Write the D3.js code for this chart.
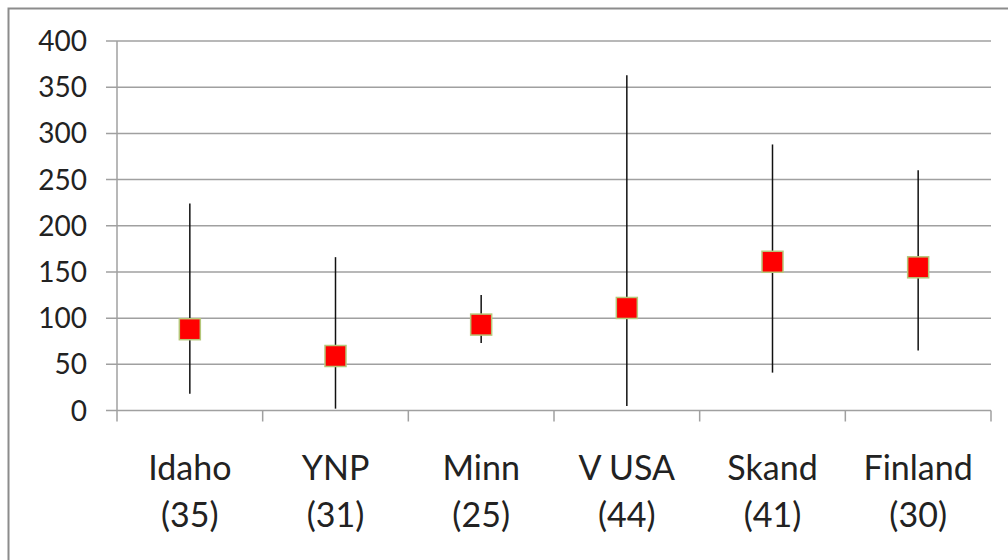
<!DOCTYPE html>
<html>
<head>
<meta charset="utf-8">
<script src="https://cdn.jsdelivr.net/npm/d3@7"></script>
<style>
  html, body { margin: 0; padding: 0; background: #fff; }
  svg { display: block; }
</style>
</head>
<body>
<svg id="chart" width="1008" height="560"></svg>
<script>
// Regions with sample counts, and the median / range of each
const categories = ["Idaho", "YNP", "Minn", "V USA", "Skand", "Finland"];
const sampleCounts = [35, 31, 25, 44, 41, 30];
const medians = [88, 59, 93, 111, 161, 155];
const highs = [224, 166, 125, 363, 288, 260];
const lows = [18, 2, 73, 5, 41, 65];
const yTicks = [0, 50, 100, 150, 200, 250, 300, 350, 400];

const svg = d3.select("#chart");
const fontFamily = "Lato, 'Open Sans', sans-serif";

// Outer frame
svg.append("rect")
  .attr("x", 8.5).attr("y", 8.5)
  .attr("width", 1100).attr("height", 700)
  .attr("fill", "none").attr("stroke", "#8c8c8c").attr("stroke-width", 2);

const plotLeft = 117, plotRight = 991, plotTop = 41, plotBottom = 410.5;

const x = d3.scaleBand().domain(categories).range([plotLeft, plotRight]).padding(0);
const y = d3.scaleLinear().domain([0, 400]).range([plotBottom, plotTop]);

// Horizontal grid lines with tick marks extending left of the axis
svg.append("g").selectAll("line")
  .data(yTicks)
  .join("line")
  .attr("x1", plotLeft - 11).attr("x2", plotRight)
  .attr("y1", d => y(d)).attr("y2", d => y(d))
  .attr("stroke", "#a0a0a0").attr("stroke-width", 1.5);

// Y axis labels
svg.append("g").selectAll("text")
  .data(yTicks)
  .join("text")
  .attr("x", 87).attr("y", d => y(d))
  .attr("dy", "0.36em")
  .attr("text-anchor", "end")
  .attr("font-family", fontFamily)
  .attr("font-size", 28)
  .attr("fill", "#222")
  .text(d => d);

// Vertical axis line
svg.append("line")
  .attr("x1", plotLeft).attr("x2", plotLeft)
  .attr("y1", plotTop).attr("y2", plotBottom + 11)
  .attr("stroke", "#a0a0a0").attr("stroke-width", 1.5);

// Category boundary ticks below the x axis
const boundaries = categories.map(c => x(c)).concat([plotRight]);
svg.append("g").selectAll("line")
  .data(boundaries.slice(1))
  .join("line")
  .attr("x1", d => d).attr("x2", d => d)
  .attr("y1", plotBottom).attr("y2", plotBottom + 11)
  .attr("stroke", "#a0a0a0").attr("stroke-width", 1.5);

// Category labels (two lines: name and sample count)
const labels = svg.append("g").selectAll("text")
  .data(categories)
  .join("text")
  .attr("text-anchor", "middle")
  .attr("font-family", fontFamily)
  .attr("font-size", 34)
  .attr("fill", "#222");
labels.append("tspan")
  .attr("x", d => x(d) + x.bandwidth() / 2)
  .attr("y", 480)
  .text(d => d);
labels.append("tspan")
  .attr("x", d => x(d) + x.bandwidth() / 2)
  .attr("y", 527)
  .text((d, i) => `(${sampleCounts[i]})`);

// Range whiskers
svg.append("g").selectAll("line")
  .data(categories)
  .join("line")
  .attr("x1", d => x(d) + x.bandwidth() / 2)
  .attr("x2", d => x(d) + x.bandwidth() / 2)
  .attr("y1", (d, i) => y(highs[i]))
  .attr("y2", (d, i) => y(lows[i]))
  .attr("stroke", "#111").attr("stroke-width", 1.5);

// Median markers
const size = 21;
svg.append("g").selectAll("rect")
  .data(categories)
  .join("rect")
  .attr("x", d => x(d) + x.bandwidth() / 2 - size / 2)
  .attr("y", (d, i) => y(medians[i]) - size / 2)
  .attr("width", size).attr("height", size)
  .attr("fill", "#ff0000")
  .attr("stroke", "#b5c77a").attr("stroke-width", 1.5);
</script>
</body>
</html>
